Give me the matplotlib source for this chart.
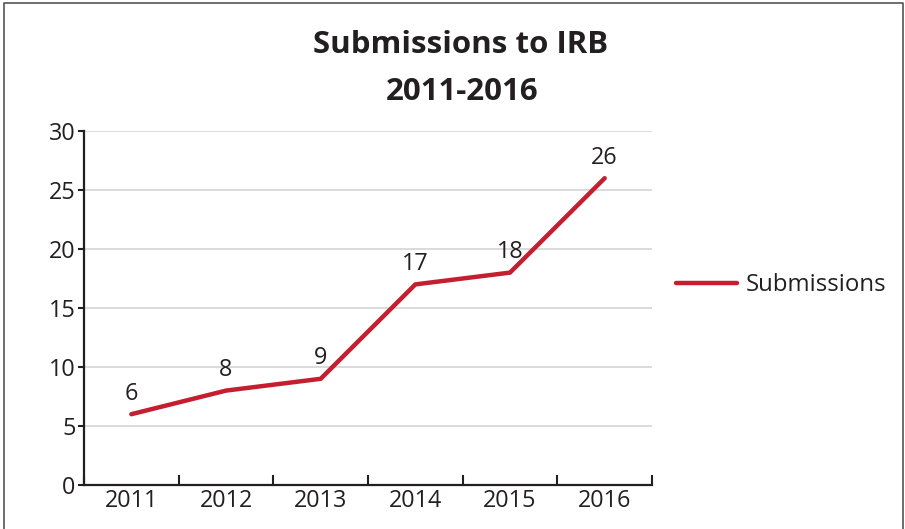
import matplotlib
matplotlib.use("Agg")
import matplotlib.pyplot as plt
from matplotlib.lines import Line2D

years = ["2011", "2012", "2013", "2014", "2015", "2016"]
submissions = [6, 8, 9, 17, 18, 26]
y_ticks = [0, 5, 10, 15, 20, 25, 30]

plt.rcParams['font.family'] = ['Open Sans', 'DejaVu Sans']
txt = '#231f20'
red = '#c41e2f'
fs = 16.8

fig = plt.figure(figsize=(9.05, 5.29), dpi=100)
ax = fig.add_axes([84/905, 1-485/529, (652-84)/905, (485-131)/529])

x = list(range(len(years)))
ax.plot(x, submissions, color=red, lw=3.2, solid_capstyle='round', label='Submissions', zorder=3)
for xi, v in zip(x, submissions):
    ax.annotate(str(v), (xi, v), xytext=(0, 6), textcoords='offset points',
                ha='center', va='bottom', fontsize=fs, color=txt)

ax.set_xlim(-0.5, len(years)-0.5)
ax.set_ylim(0, 30)
ax.set_yticks(y_ticks)
ax.set_yticklabels([str(t) for t in y_ticks], fontsize=fs, color=txt)
ax.set_xticks(x)
ax.set_xticklabels(years, fontsize=fs, color=txt)
ax.tick_params(axis='x', which='major', length=0, pad=3)
ax.set_xticks([i-0.5 for i in range(len(years)+1)], minor=True)
ax.tick_params(axis='x', which='minor', direction='in', length=7, width=1.5, color=txt)
ax.tick_params(axis='y', direction='out', length=4, width=1.5, color=txt, pad=2)
ax.grid(axis='y', color='#d4d4d4', lw=1.2)
ax.set_axisbelow(True)
for s in ['top', 'right']:
    ax.spines[s].set_visible(False)
for s in ['left', 'bottom']:
    ax.spines[s].set_color(txt)
    ax.spines[s].set_linewidth(1.6)

fig.text(461/905, 1-45/529, "Submissions to IRB", ha='center', va='center',
         fontsize=22.5, fontweight='bold', color=txt)
fig.text(462/905, 1-92/529, "2011-2016", ha='center', va='center',
         fontsize=22.5, fontweight='bold', color=txt)

leg = ax.legend(loc='center left', bbox_to_anchor=(676/905, 1-285/529), bbox_transform=fig.transFigure,
                frameon=False, fontsize=17.3, handlelength=2.55, handletextpad=0.35,
                borderaxespad=0, borderpad=0)
for t in leg.get_texts():
    t.set_color(txt)

fig.add_artist(Line2D([4/905, 4/905, 903/905, 903/905], [0, 1-2.5/529, 1-2.5/529, 0],
                      transform=fig.transFigure, color='#555555', lw=1.2))

fig.savefig("out.png", dpi=100)
